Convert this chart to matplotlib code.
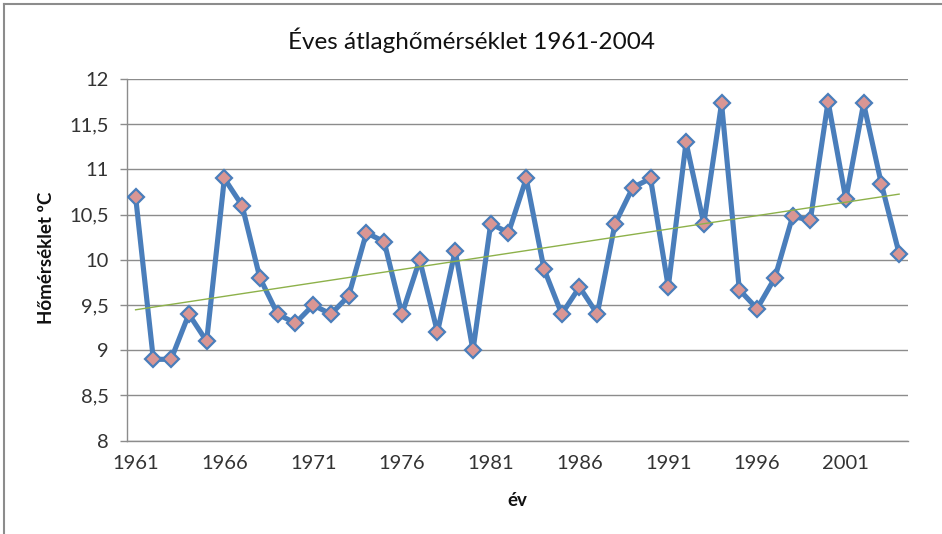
import matplotlib
matplotlib.use("Agg")
import matplotlib.pyplot as plt
from matplotlib.ticker import FuncFormatter, FixedLocator, MultipleLocator
from matplotlib.lines import Line2D
import numpy as np

years = list(range(1961, 2005))
temps = [10.7, 8.9, 8.9, 9.4, 9.1, 10.9, 10.6, 9.8, 9.4, 9.3,
         9.5, 9.4, 9.6, 10.3, 10.2, 9.4, 10.0, 9.2, 10.1, 9.0,
         10.4, 10.3, 10.9, 9.9, 9.4, 9.7, 9.4, 10.4, 10.8, 10.9,
         9.7, 11.3, 10.4, 11.73, 9.67, 9.46, 9.8, 10.48, 10.44, 11.75,
         10.67, 11.73, 10.84, 10.07]
tick_years = [1961, 1966, 1971, 1976, 1981, 1986, 1991, 1996, 2001]

title = "Éves átlaghőmérséklet 1961-2004"
ylabel = "Hőmérséklet ºC"
xlabel = "év"

plt.rcParams['font.family'] = ['Lato', 'DejaVu Sans']

fig = plt.figure(figsize=(9.42, 5.34), dpi=100)
ax = fig.add_axes([126.7/942, 1-440.7/534, (908-126.7)/942, (440.7-79)/534])

x = np.arange(len(years))
ax.plot(x, temps, color='#4A7EBB', linewidth=3.7, marker='D', markersize=8.5,
        markerfacecolor='#D99694', markeredgecolor='#4A7EBB', markeredgewidth=1.6,
        zorder=3, solid_joinstyle='round')

coef = np.polyfit(x, temps, 1)
trend = np.polyval(coef, x)
ax.plot(x, trend, color='#8DB14A', linewidth=1.0, zorder=4)

ax.set_xlim(-0.5, len(years) - 0.5)
ax.set_ylim(8, 12)
ax.yaxis.set_major_locator(MultipleLocator(0.5))
ax.yaxis.set_major_formatter(FuncFormatter(lambda v, p: f"{v:g}".replace('.', ',')))
ax.xaxis.set_major_locator(FixedLocator([years.index(t) for t in tick_years]))
ax.set_xticklabels([str(t) for t in tick_years])

ax.grid(axis='y', color='#8C8C8C', linewidth=1.0)
ax.set_axisbelow(True)
for s in ['top', 'right']:
    ax.spines[s].set_visible(False)
for s in ['left', 'bottom']:
    ax.spines[s].set_color('#8C8C8C')
    ax.spines[s].set_linewidth(1.0)

ax.tick_params(axis='x', length=0, pad=10, labelsize=14.5, labelcolor='#333333')
ax.tick_params(axis='y', length=5, width=1, color='#8C8C8C', pad=8,
               labelsize=14.5, labelcolor='#333333')

fig.text(471/942, 1-40/534, title, ha='center', va='center', fontsize=17.5, color='#111111')
fig.text(46/942, 1-258/534, ylabel, ha='center', va='center', rotation=90,
         fontsize=13.5, fontweight='bold', color='#111111')
fig.text(517/942, 1-500/534, xlabel, ha='center', va='center',
         fontsize=13.5, fontweight='bold', color='#111111')

# outer chart border (partially visible)
fig.add_artist(Line2D([4/942, 4/942], [0, 1-4/534], transform=fig.transFigure,
                      color='#8C8C8C', linewidth=1.5))
fig.add_artist(Line2D([4/942, 1], [1-4/534, 1-4/534], transform=fig.transFigure,
                      color='#8C8C8C', linewidth=1.5))

fig.savefig('out.png', dpi=100)
